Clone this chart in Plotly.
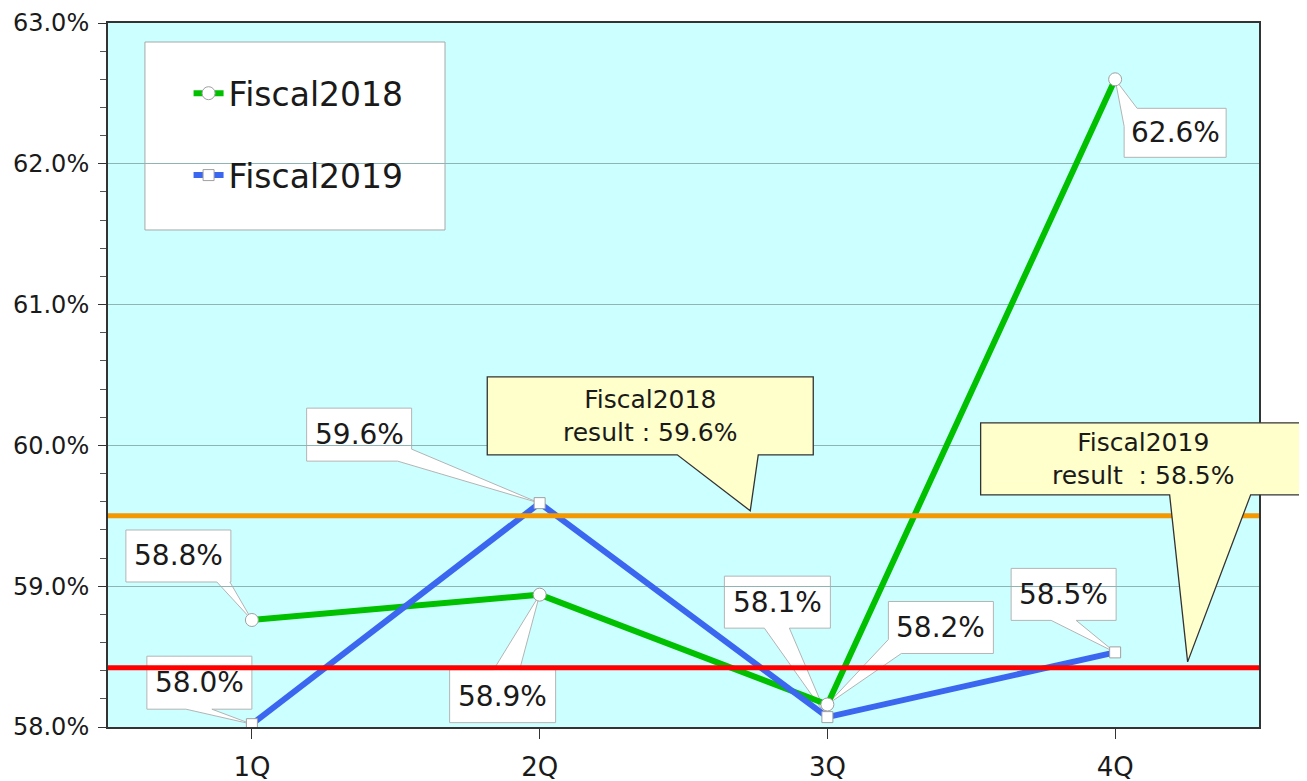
import plotly.graph_objects as go

# ---------------- data ----------------
quarters = ["1Q", "2Q", "3Q", "4Q"]
fy2018 = [58.76, 58.94, 58.16, 62.60]
fy2019 = [58.02, 59.59, 58.07, 58.53]
series_names = ["Fiscal2018", "Fiscal2019"]
result_values = [59.50, 58.42]          # drawn result lines (FY2018 orange, FY2019 red)
result_texts = ["Fiscal2018<br>result : 59.6%", "Fiscal2019<br>result\u00a0 : 58.5%"]
y_tick_start, y_tick_step = 58.0, 1.0

# ---------------- styles ----------------
Y_MIN, Y_MAX = 58.0, 63.0
X_MIN, X_MAX = -0.5, 3.5
FONT = "DejaVu Sans"
TXT = "#1a1a1a"
GREEN = "#00c000"
BLUE = "#3b66f0"
ORANGE = "#f39800"
RED = "#ff0000"

def px_x(i):
    return (i - X_MIN) / (X_MAX - X_MIN)

def px_y(v):
    return (v - Y_MIN) / (Y_MAX - Y_MIN)

def callout_path(box, a, b, tip):
    L, T, R, B = box
    W, H = R - L, B - T
    P = 2 * (W + H)

    def t_of(p):
        x, y = p
        if abs(y - T) < 1e-9:
            return x - L
        if abs(x - R) < 1e-9:
            return W + (y - T)
        if abs(y - B) < 1e-9:
            return W + H + (R - x)
        return 2 * W + H + (B - y)

    corners = [(0, (L, T)), (W, (R, T)), (W + H, (R, B)), (2 * W + H, (L, B))]
    ta, tb = t_of(a), t_of(b)
    if (tb - ta) % P > P / 2:
        a, b, ta, tb = b, a, tb, ta
    pts = [a, tip, b]
    d_total = (ta - tb) % P
    cs = sorted(((tc - tb) % P, c) for tc, c in corners if 0 < (tc - tb) % P < d_total)
    pts += [c for _, c in cs]
    return "M " + " L ".join(f"{x} {-y}" for x, y in pts) + " Z"

# callout geometry, in screen pixels relative to the pointed point: box (L,T,R,B), wedge base a, b, tip
label_geom = {
    ("Fiscal2018", 0): ((-126, -90, -21, -38), (-35, -38), (-22, -38), (0, 0)),
    ("Fiscal2018", 1): ((-90, 75, 16, 128), (-46, 75), (-20, 75), (0, 0)),
    ("Fiscal2018", 2): ((61, -103, 166, -51), (61, -65), (74, -51), (0, 0)),
    ("Fiscal2018", 3): ((9, 29, 111, 78), (9, 47), (22, 29), (0, 0)),
    ("Fiscal2019", 0): ((-105, -68, 0, -15), (-66, -15), (-40, -15), (0, 0)),
    ("Fiscal2019", 1): ((-233, -95, -128, -42), (-128, -54), (-142, -42), (0, 0)),
    ("Fiscal2019", 2): ((-103, -141, 3, -89), (-63, -89), (-38, -89), (0, 0)),
    ("Fiscal2019", 3): ((-104, -84, 1, -32), (-64, -32), (-39, -32), (0, 0)),
}
result_geom = [
    (0.558, (-263, -139, 63, -61), (-73, -61), (8, -61), (0, -5)),
    (0.938, (-207, -245, 117, -173), (-18, -173), (63, -173), (0, -6)),
]

fig = go.Figure()

# main series
for name, vals, color, sym, msize in [
    (series_names[0], fy2018, GREEN, "circle", 13),
    (series_names[1], fy2019, BLUE, "square", 11),
]:
    fig.add_trace(go.Scatter(
        x=quarters, y=vals, name=name, mode="lines+markers",
        line=dict(color=color, width=6),
        marker=dict(symbol=sym, size=msize, color="white", line=dict(color="#a0a0a0", width=1)),
        legendgroup=name,
    ))

# result lines (span the full plot width via a hidden overlaying axis)
for v, color in zip(result_values, [ORANGE, RED]):
    fig.add_trace(go.Scatter(
        x=[0, 1], y=[v, v], xaxis="x2", mode="lines",
        line=dict(color=color, width=5), showlegend=False, hoverinfo="skip",
    ))

shapes = []
annotations = []

# legend background box
shapes.append(dict(type="rect", xref="paper", yref="paper", layer="between",
                   x0=0.0321, x1=0.2928, y0=0.706, y1=0.973,
                   fillcolor="white", line=dict(color="#a8a8a8", width=1)))

# data label callouts
for name, vals in zip(series_names, [fy2018, fy2019]):
    for i, v in enumerate(vals):
        box, a, b, tip = label_geom[(name, i)]
        ax, ay = px_x(i), px_y(v)
        shapes.append(dict(type="path", xref="paper", yref="paper", layer="between",
                           xsizemode="pixel", ysizemode="pixel", xanchor=ax, yanchor=ay,
                           path=callout_path(box, a, b, tip),
                           fillcolor="white", line=dict(color="#b4b4b4", width=1)))
        L, T, R, B = box
        annotations.append(dict(xref="paper", yref="paper", x=ax, y=ay,
                                xshift=(L + R) / 2, yshift=-(T + B) / 2,
                                text=f"{v:.1f}%", showarrow=False,
                                xanchor="center", yanchor="middle",
                                font=dict(family=FONT, size=28, color=TXT)))

# result callouts (yellow)
for v, txt, (axp, box, a, b, tip) in zip(result_values, result_texts, result_geom):
    ay = px_y(v)
    shapes.append(dict(type="path", xref="paper", yref="paper", layer="above",
                       xsizemode="pixel", ysizemode="pixel", xanchor=axp, yanchor=ay,
                       path=callout_path(box, a, b, tip),
                       fillcolor="#ffffcc", line=dict(color="#333333", width=1.3)))
    L, T, R, B = box
    annotations.append(dict(xref="paper", yref="paper", x=axp, y=ay,
                            xshift=(L + R) / 2, yshift=-(T + B) / 2,
                            text=txt, showarrow=False,
                            xanchor="center", yanchor="middle",
                            font=dict(family=FONT, size=25, color=TXT)))

# the page body adds an 8px offset, so the figure is sized to fit the window from (8, 8)
fig.update_layout(
    width=1299, height=773,
    margin=dict(l=100, r=48, t=15, b=54),
    paper_bgcolor="white",
    plot_bgcolor="#ccffff",
    font=dict(family=FONT, color=TXT),
    shapes=shapes,
    annotations=annotations,
    showlegend=True,
    legend=dict(x=0.070, y=0.94, xanchor="left", yanchor="top",
                bgcolor="rgba(0,0,0,0)", borderwidth=0,
                font=dict(family=FONT, size=33, color=TXT),
                traceorder="grouped", tracegroupgap=36),
    xaxis=dict(type="category", categoryorder="array", categoryarray=quarters,
               range=[X_MIN, X_MAX], showline=True, linecolor="#333333", linewidth=2,
               mirror=True, ticks="outside", ticklen=10, tickcolor="#333333",
               showgrid=False, automargin=False, ticklabelstandoff=6,
               tickfont=dict(family=FONT, size=26, color=TXT)),
    xaxis2=dict(overlaying="x", range=[0, 1], visible=False),
    yaxis=dict(range=[Y_MIN, Y_MAX], tickmode="linear", tick0=y_tick_start, dtick=y_tick_step,
               tickformat=".1f", ticksuffix="%",
               showline=True, linecolor="#333333", linewidth=2, mirror=True,
               ticks="outside", ticklen=8, tickcolor="#333333",
               showgrid=True, gridcolor="#8fb4b4", gridwidth=1, zeroline=False,
               automargin=False, ticklabelstandoff=4,
               minor=dict(tickmode="linear", tick0=y_tick_start, dtick=0.2, ticks="outside",
                          ticklen=6, tickcolor="#555555", showgrid=False),
               tickfont=dict(family=FONT, size=24, color=TXT)),
)

fig.write_html("out.html")
